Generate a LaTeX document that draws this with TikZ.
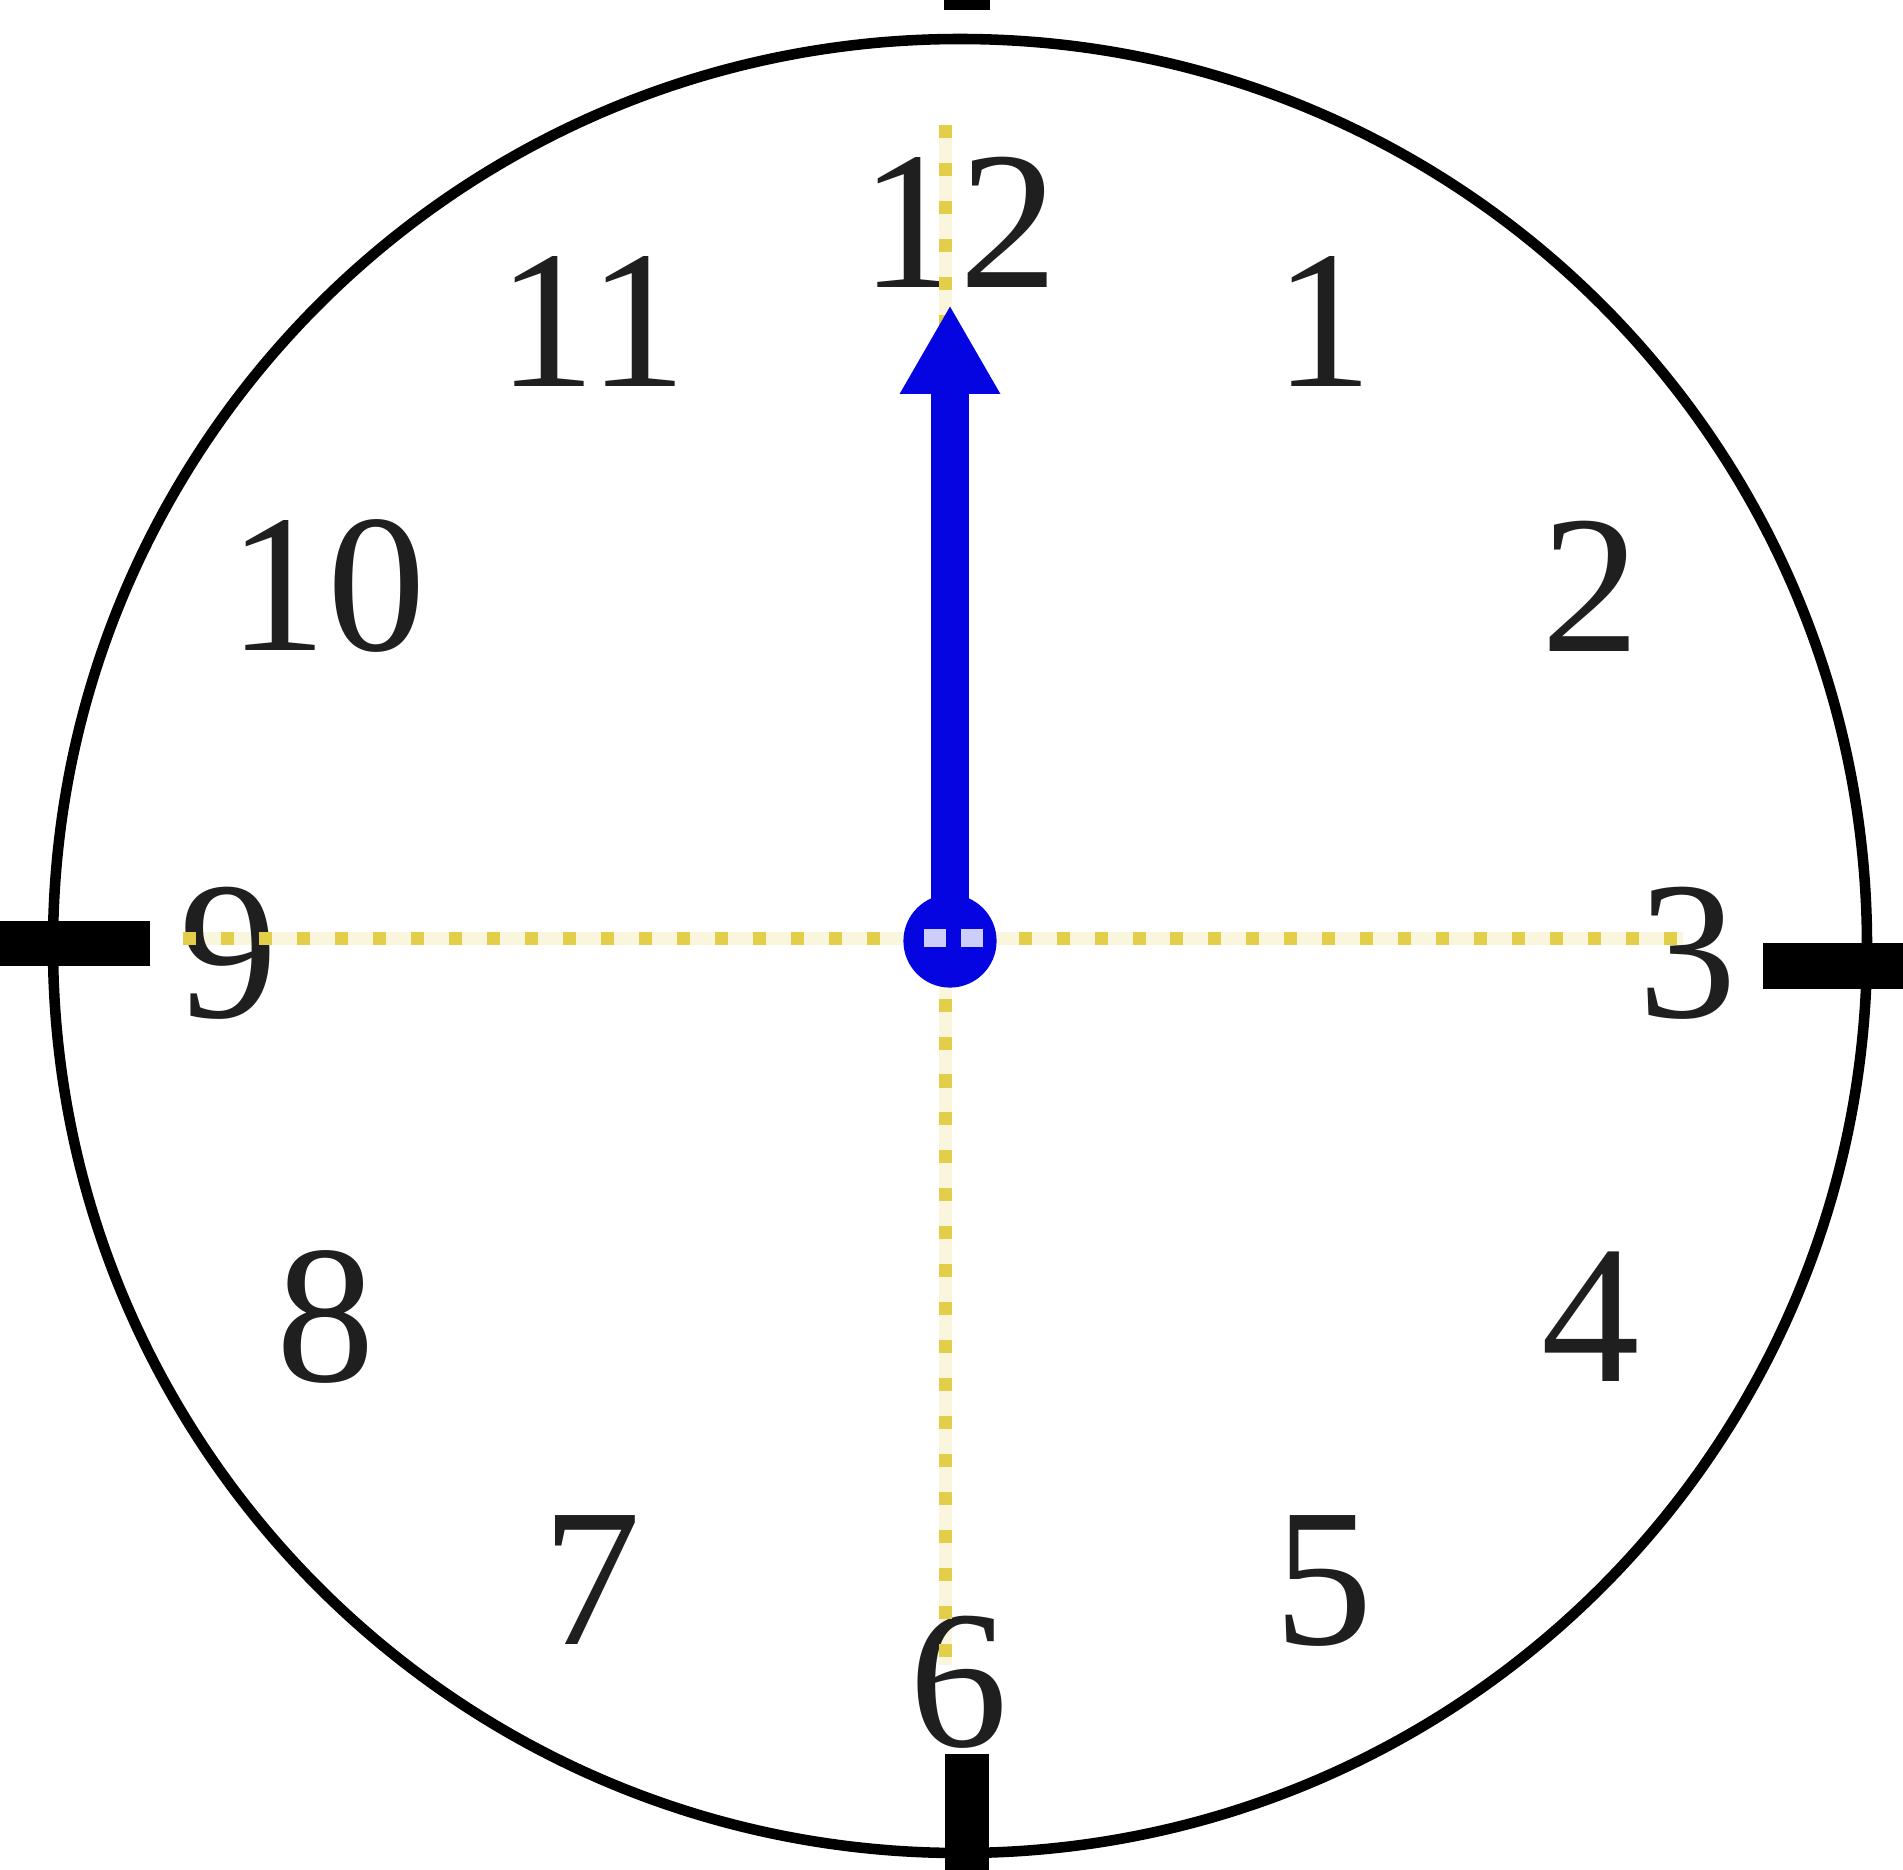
\documentclass[tikz,border=0pt]{standalone}
\usepackage{fontspec}
\setmainfont{Liberation Serif}
\usepackage{tikz}
\usetikzlibrary{arrows.meta}

\definecolor{handblue}{RGB}{5,5,225}
\definecolor{guideyellow}{RGB}{226,206,72}

\begin{document}
\begin{tikzpicture}[
    x=0.01cm, y=-0.01cm,
    every node/.style={font=\fontsize{56}{60}\selectfont, text=black!88},
    num/.style={inner sep=0pt},
    rim/.style={draw=black, line width=3pt},
    tick/.style={fill=black},
    guidebase/.style={draw=guideyellow!18, line width=3.7pt},
    guide/.style={draw=guideyellow, line width=3.7pt, dash pattern=on 3.7pt off 7.1pt},
    hand/.style={draw=handblue, line width=10.8pt, -{Triangle[length=25.3pt, width=26.7pt]}},
    pivot/.style={circle, fill=handblue, minimum size=26.5pt, inner sep=0pt}
]
\useasboundingbox (0,0) rectangle (1903,1870);

\draw[rim] (960,946) circle (907);

\fill[tick] (0,921) rectangle (150,966);
\fill[tick] (1763,943) rectangle (1903,989);
\fill[tick] (944,0) rectangle (990,10);
\fill[tick] (945,1754) rectangle (989,1870);

% dotted guides
\coordinate (G9) at (183,938);
\coordinate (G3) at (1683,938);
\coordinate (G12) at (945,125);
\coordinate (G6) at (945,1665);
\draw[guidebase] (G9) -- (G3);
\draw[guidebase] (G12) -- (G6);

\node[num] (n12) at (959,222) {12};
\node[num] (n1) at (1324,321) {1};
\node[num] (n2) at (1591,586) {2};
\node[num] (n3) at (1688,953) {3};
\node[num] (n4) at (1591,1317) {4};
\node[num] (n5) at (1324,1581) {5};
\node[num] (n6) at (959,1682) {6};
\node[num] (n7) at (592,1580) {7};
\node[num] (n8) at (326,1317) {8};
\node[num] (n9) at (229,953) {9};
\node[num] (n10) at (327,586) {10};
\node[num] (n11) at (592,321) {11};

\draw[guide] (G9) -- (G3);
\draw[guide] (G12) -- (G6);

% hand
\node[pivot] (pivot) at (950,941) {};
\coordinate (tip) at (950,305);
\draw[hand] (pivot.center) -- (tip);
\fill[handblue!20] (924,929) rectangle (946,947);
\fill[handblue!20] (961,929) rectangle (983,947);

\end{tikzpicture}
\end{document}
